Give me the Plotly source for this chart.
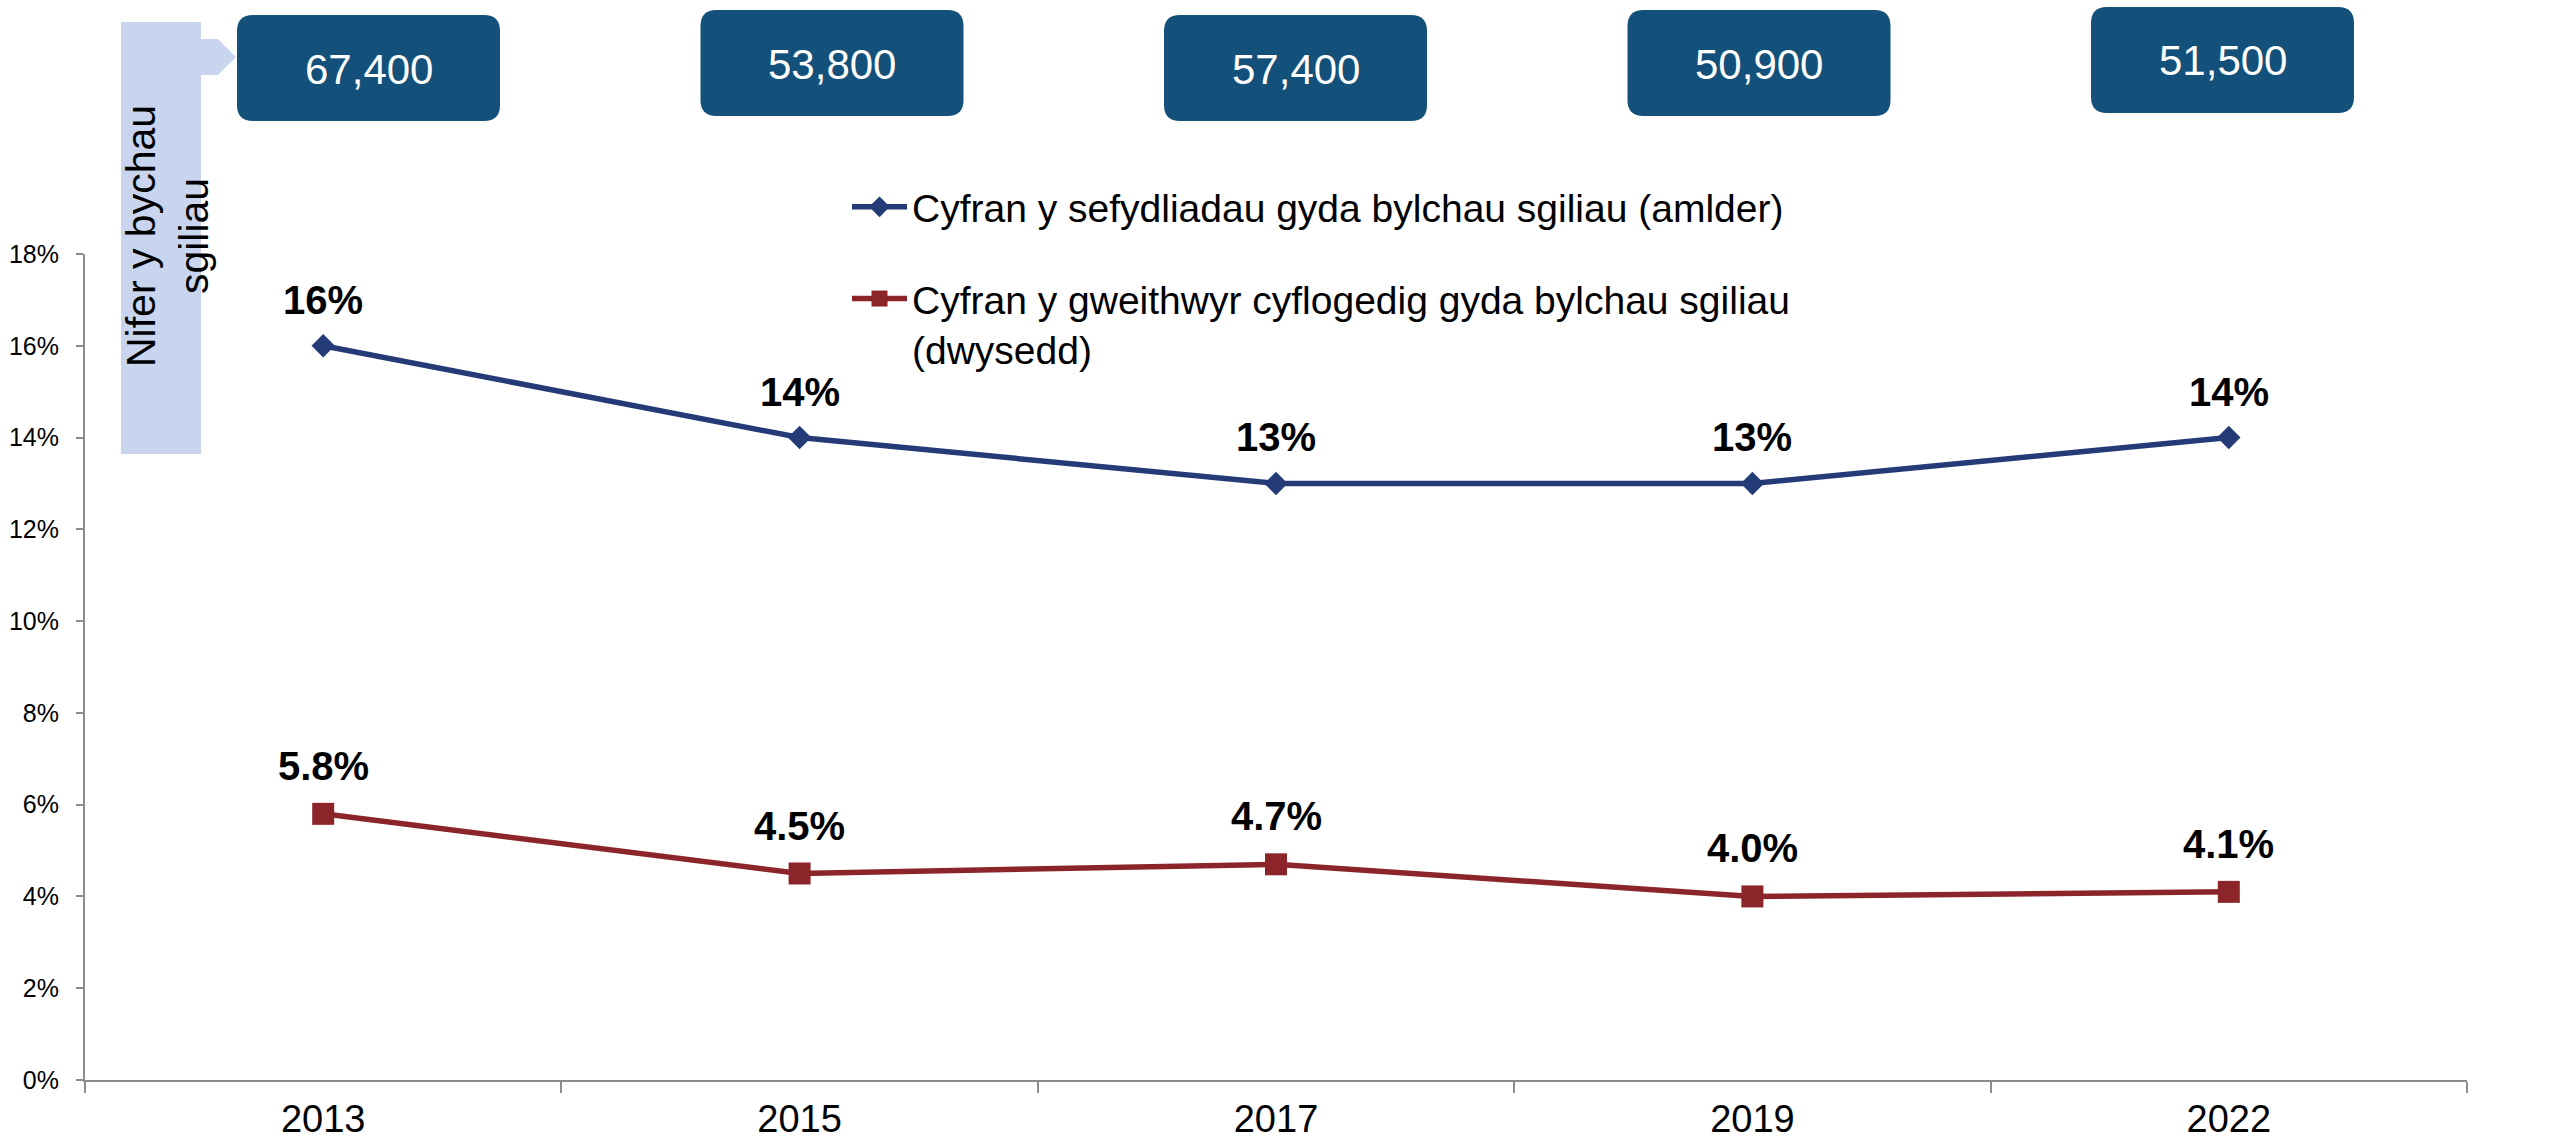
import plotly.graph_objects as go

# ---------------- data ----------------
years = ["2013", "2015", "2017", "2019", "2022"]
prevalence = [0.16, 0.14, 0.13, 0.13, 0.14]          # Cyfran y sefydliadau (amlder)
density = [0.058, 0.045, 0.047, 0.040, 0.041]        # Cyfran y gweithwyr (dwysedd)
prevalence_labels = ["16%", "14%", "13%", "13%", "14%"]
density_labels = ["5.8%", "4.5%", "4.7%", "4.0%", "4.1%"]
gap_counts = ["67,400", "53,800", "57,400", "50,900", "51,500"]

name_prev = "Cyfran y sefydliadau gyda bylchau sgiliau (amlder)"
name_dens = "Cyfran y gweithwyr cyflogedig gyda bylchau sgiliau<br>(dwysedd)"
side_title = "Nifer y bychau<br>sgiliau"

# ---------------- style ----------------
FONT = "Arial, 'Liberation Sans', sans-serif"
BLUE = "#243B77"
RED = "#8B2529"
BOX = "#13507A"
BAR = "#C9D5EE"
AXIS = "#8C8C8C"

W, H = 2552, 1142
L, R, T, B = 85, 85, 254, 62
PW, PH = W - L - R, H - T - B


def px(x):
    return (x - L) / PW


def py(y):
    return (H - B - y) / PH


def rrect(x0, y0, x1, y1, r):
    return (f"M {px(x0 + r)},{py(y0)} L {px(x1 - r)},{py(y0)} "
            f"Q {px(x1)},{py(y0)} {px(x1)},{py(y0 + r)} L {px(x1)},{py(y1 - r)} "
            f"Q {px(x1)},{py(y1)} {px(x1 - r)},{py(y1)} L {px(x0 + r)},{py(y1)} "
            f"Q {px(x0)},{py(y1)} {px(x0)},{py(y1 - r)} L {px(x0)},{py(y0 + r)} "
            f"Q {px(x0)},{py(y0)} {px(x0 + r)},{py(y0)} Z")


fig = go.Figure()
fig.add_trace(go.Scatter(
    x=years, y=prevalence, mode="lines+markers", name=name_prev,
    legendgroup="a",
    line=dict(color=BLUE, width=5.5),
    marker=dict(symbol="diamond", size=18, color=BLUE),
))
fig.add_trace(go.Scatter(
    x=years, y=density, mode="lines+markers", name=name_dens,
    legendgroup="b",
    line=dict(color=RED, width=5.5),
    marker=dict(symbol="square", size=22, color=RED),
))

annotations = []
for i, (v, lab) in enumerate(zip(prevalence, prevalence_labels)):
    annotations.append(dict(x=i, y=v, xref="x", yref="y", text=f"<b>{lab}</b>", showarrow=False,
                            yshift=46, yanchor="middle", xanchor="center",
                            font=dict(family=FONT, size=40, color="black")))
for i, (v, lab) in enumerate(zip(density, density_labels)):
    annotations.append(dict(x=i, y=v, xref="x", yref="y", text=f"<b>{lab}</b>", showarrow=False,
                            yshift=48, yanchor="middle", xanchor="center",
                            font=dict(family=FONT, size=40, color="black")))

shapes = []
# side bar with arrow
shapes.append(dict(type="rect", xref="paper", yref="paper",
                   x0=px(121), x1=px(201), y0=py(454), y1=py(22),
                   fillcolor=BAR, line=dict(width=0), layer="below"))
shapes.append(dict(type="path", xref="paper", yref="paper",
                   path=(f"M {px(200)},{py(39)} L {px(218)},{py(39)} L {px(236)},{py(57)} "
                         f"L {px(218)},{py(75)} L {px(200)},{py(75)} Z"),
                   fillcolor=BAR, line=dict(width=0), layer="below"))
annotations.append(dict(x=px(167), y=py(236), xref="paper", yref="paper",
                        text=side_title, textangle=-90, showarrow=False,
                        xanchor="center", yanchor="middle",
                        font=dict(family=FONT, size=41, color="black")))

# count boxes
box_tops = [15, 10, 15, 10, 7]
for i, (lab, top) in enumerate(zip(gap_counts, box_tops)):
    x0 = 237 + i * 463.5
    x1 = x0 + 263
    y1 = top + 106
    shapes.append(dict(type="path", xref="paper", yref="paper",
                       path=rrect(x0, top, x1, y1, 16),
                       fillcolor=BOX, line=dict(width=0)))
    annotations.append(dict(x=px((x0 + x1) / 2), y=py((top + y1) / 2 + 1),
                            xref="paper", yref="paper", text=lab, showarrow=False,
                            xanchor="center", yanchor="middle",
                            font=dict(family=FONT, size=42, color="white")))

fig.update_layout(
    width=W, height=H,
    margin=dict(l=L, r=R, t=T, b=B, autoexpand=False),
    paper_bgcolor="white", plot_bgcolor="white",
    font=dict(family=FONT, color="black"),
    showlegend=True,
    legend=dict(x=px(847), y=py(175), xanchor="left", yanchor="top",
                font=dict(family=FONT, size=39, color="black"),
                traceorder="grouped", tracegroupgap=38, valign="top",
                itemwidth=55, bgcolor="rgba(0,0,0,0)"),
    shapes=shapes,
    annotations=annotations,
    xaxis=dict(type="category", range=[-0.5, 4.5], tickson="boundaries",
               ticks="outside", ticklen=11, tickwidth=2, tickcolor=AXIS,
               showline=True, linecolor=AXIS, linewidth=2,
               showgrid=False, zeroline=False, automargin=False,
               ticklabelstandoff=4,
               tickfont=dict(family=FONT, size=38, color="black")),
    yaxis=dict(range=[0, 0.18], dtick=0.02, tick0=0, tickformat=".0%",
               ticks="outside", ticklen=7, tickwidth=2, tickcolor=AXIS,
               showline=True, linecolor=AXIS, linewidth=2,
               showgrid=False, zeroline=False, automargin=False,
               ticklabelstandoff=12,
               tickfont=dict(family=FONT, size=25, color="black")),
)

fig.write_html("out.html",
               config={"displayModeBar": False},
               post_script="document.body.style.margin='0';document.body.style.padding='0';"
                           "document.documentElement.style.overflow='hidden';")
